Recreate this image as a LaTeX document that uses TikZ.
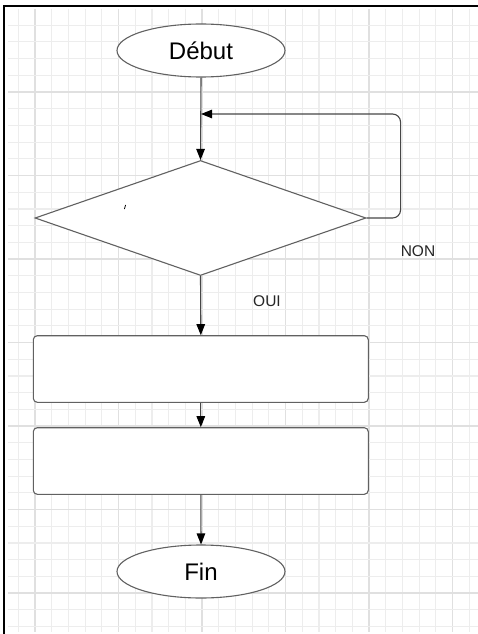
\documentclass[tikz,border=0pt]{standalone}
\usepackage{fontspec}
\setmainfont{Liberation Sans}
\usetikzlibrary{shapes.geometric,arrows.meta}
\tikzset{
  minorgrid/.style={draw=black!7, line width=1.2pt},
  majorgrid/.style={draw=black!12, line width=1.2pt},
  frameline/.style={draw=black, line width=1.5pt},
  shapeline/.style={draw=black!62, line width=1.1pt, fill=white},
  termbox/.style={shapeline, ellipse, minimum width=168pt, minimum height=53pt, inner sep=0pt, font=\fontsize{24}{28}\selectfont},
  procbox/.style={shapeline, rectangle, rounded corners=4pt, minimum width=335pt, minimum height=66.6pt, inner sep=0pt},
  decbox/.style={shapeline, diamond, shape aspect=2.88, minimum width=331pt, minimum height=115pt, inner sep=0pt},
  conn/.style={draw=black!72, line width=1.1pt, -{Triangle[length=11pt,width=8.5pt,color=black]}},
  lbl/.style={font=\fontsize{15.5}{18}\selectfont, text=black!85, inner sep=0pt}
}
\begin{document}
\begin{tikzpicture}[x=1pt,y=-1pt]
\useasboundingbox (0,0) rectangle (478,634);
\fill[white] (0,0) rectangle (478,634);
% grid
\foreach \k in {-1,...,26}{
  \pgfmathtruncatemacro{\m}{mod(\k+10,5)}
  \ifnum\m=0 \path[majorgrid] ({35+16.7*\k},9) -- ({35+16.7*\k},632);
  \else \path[minorgrid] ({35+16.7*\k},9) -- ({35+16.7*\k},632); \fi
}
\foreach \k in {-4,...,32}{
  \pgfmathtruncatemacro{\m}{mod(\k+10,5)}
  \ifnum\m=0 \path[majorgrid] (8,{92+16.7*\k}) -- (478,{92+16.7*\k});
  \else \path[minorgrid] (8,{92+16.7*\k}) -- (478,{92+16.7*\k}); \fi
}
% frame
\path[frameline] (4,634) -- (4,6) -- (478,6);
% shapes
\node[termbox] (debut) at (201,50.5) {Début};
\node[decbox] (dec) at (200.5,218) {};
\node[procbox] (p1) at (200.8,369) {};
\node[procbox] (p2) at (200.8,461) {};
\node[termbox] (fin) at (201,571.5) {Fin};
\coordinate (loopin) at (201,114);
\coordinate (mark) at (125,207);
% connectors
\draw[conn] (debut.south) -- (dec.north);
\draw[conn, rounded corners=8pt] (dec.east) -- ++(34,0) |- (loopin);
\draw[conn] (dec.south) -- (p1.north);
\draw[conn] (p1.south) -- (p2.north);
\draw[conn] (p2.south) -- (fin.north);
% stray mark
\draw[black, line width=0.8pt] ([shift={(0.6,-2)}]mark) -- ([shift={(-0.6,2)}]mark);
% labels
\node[lbl] (non) at (418,251) {NON};
\node[lbl] (oui) at (267,301) {OUI};
\end{tikzpicture}
\end{document}
